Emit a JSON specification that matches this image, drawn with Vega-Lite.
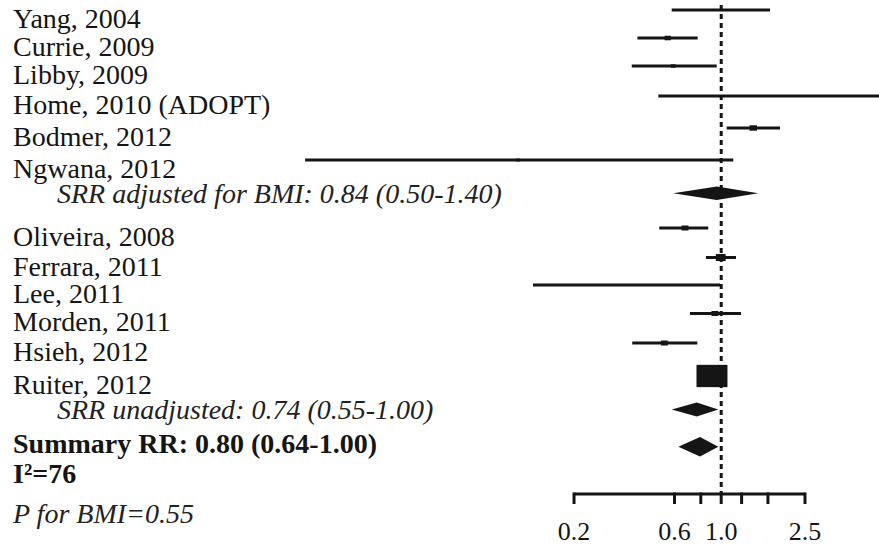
{
  "$schema": "https://vega.github.io/schema/vega-lite/v6.json",
  "width": 879,
  "height": 548,
  "padding": 0,
  "autosize": "none",
  "background": "white",
  "config": {"view": {"stroke": null}},
  "datasets": {
    "studies": [
      {"study": "Yang, 2004", "pos": 1.0, "lo": 0.582, "est": 1.0, "hi": 1.705, "w": 0},
      {"study": "Currie, 2009", "pos": 1.903, "lo": 0.40, "est": 0.557, "hi": 0.773, "w": 5},
      {"study": "Libby, 2009", "pos": 2.806, "lo": 0.376, "est": 0.592, "hi": 0.952, "w": 3},
      {"study": "Home, 2010 (ADOPT)", "pos": 3.774, "lo": 0.503, "est": 1.0, "hi": 6.5, "w": 0},
      {"study": "Bodmer, 2012", "pos": 4.806, "lo": 1.062, "est": 1.42, "hi": 1.902, "w": 7},
      {"study": "Ngwana, 2012", "pos": 5.839, "lo": 0.01056, "est": 0.1084, "hi": 1.141, "w": 2},
      {"study": "Oliveira, 2008", "pos": 8.032, "lo": 0.508, "est": 0.673, "hi": 0.868, "w": 6},
      {"study": "Ferrara, 2011", "pos": 8.984, "lo": 0.847, "est": 0.995, "hi": 1.176, "w": 12},
      {"study": "Lee, 2011", "pos": 9.871, "lo": 0.1277, "est": 0.355, "hi": 0.987, "w": 0},
      {"study": "Morden, 2011", "pos": 10.79, "lo": 0.711, "est": 0.934, "hi": 1.242, "w": 6},
      {"study": "Hsieh, 2012", "pos": 11.742, "lo": 0.378, "est": 0.537, "hi": 0.77, "w": 6},
      {"study": "Ruiter, 2012", "pos": 12.806, "lo": 0.83, "est": 0.904, "hi": 0.98, "w": 120}
    ],
    "pooled": [
      {"label": "SRR adjusted for BMI: 0.84 (0.50-1.40)", "pos": 6.913, "kind": "sub"},
      {"label": "SRR unadjusted: 0.74 (0.55-1.00)", "pos": 13.887, "kind": "sub"},
      {"label": "Summary RR: 0.80 (0.64-1.00)", "pos": 15.087, "kind": "total"},
      {"label": "I²=76", "pos": 16.065, "kind": "total"},
      {"label": "P for BMI=0.55", "pos": 17.226, "kind": "note"}
    ],
    "diamond": [
      {"d": "adj", "rr": 0.592, "top": 6.913, "bot": 6.913},
      {"d": "adj", "rr": 0.952, "top": 6.697, "bot": 7.129},
      {"d": "adj", "rr": 1.5, "top": 6.913, "bot": 6.913},
      {"d": "unadj", "rr": 0.582, "top": 13.887, "bot": 13.887},
      {"d": "unadj", "rr": 0.765, "top": 13.661, "bot": 14.113},
      {"d": "unadj", "rr": 0.969, "top": 13.887, "bot": 13.887},
      {"d": "summary", "rr": 0.626, "top": 15.087, "bot": 15.087},
      {"d": "summary", "rr": 0.793, "top": 14.774, "bot": 15.4},
      {"d": "summary", "rr": 0.969, "top": 15.087, "bot": 15.087}
    ],
    "ticks": [
      {"v": 0.2, "label": "0.2"},
      {"v": 0.6, "label": "0.6"},
      {"v": 0.8, "label": ""},
      {"v": 1.0, "label": "1.0"},
      {"v": 1.25, "label": ""},
      {"v": 1.667, "label": ""},
      {"v": 2.5, "label": "2.5"}
    ]
  },
  "layer": [
    {
      "data": {"name": "studies"},
      "mark": {"type": "rule", "strokeWidth": 3, "color": "#151515", "clip": true},
      "encoding": {
        "x": {"field": "lo", "type": "quantitative", "scale": {"type": "log", "domain": [0.0003758, 5.6154], "nice": false}, "axis": null},
        "x2": {"field": "hi"},
        "y": {"field": "pos", "type": "quantitative", "scale": {"domain": [0.677, 18.355], "reverse": true, "nice": false, "zero": false}, "axis": null}
      }
    },
    {
      "data": {"name": "studies"},
      "mark": {"type": "point", "filled": true, "opacity": 1, "color": "#151515", "strokeWidth": 0, "shape": "M-1,-0.72L1,-0.72L1,0.72L-1,0.72Z"},
      "encoding": {
        "x": {"field": "est", "type": "quantitative", "scale": {"type": "log", "domain": [0.0003758, 5.6154], "nice": false}, "axis": null},
        "y": {"field": "pos", "type": "quantitative", "scale": {"domain": [0.677, 18.355], "reverse": true, "nice": false, "zero": false}, "axis": null},
        "size": {"field": "w", "type": "quantitative", "scale": {"domain": [0, 10], "range": [0, 80]}, "legend": null}
      }
    },
    {
      "data": {"name": "diamond"},
      "mark": {"type": "area", "color": "#151515", "opacity": 1},
      "encoding": {
        "x": {"field": "rr", "type": "quantitative", "scale": {"type": "log", "domain": [0.0003758, 5.6154], "nice": false}, "axis": null},
        "y": {"field": "top", "type": "quantitative", "scale": {"domain": [0.677, 18.355], "reverse": true, "nice": false, "zero": false}, "axis": null},
        "y2": {"field": "bot"},
        "detail": {"field": "d", "type": "nominal"}
      }
    },
    {
      "data": {"values": [{}]},
      "mark": {"type": "rule", "strokeWidth": 3, "strokeDash": [5, 4], "color": "#151515"},
      "encoding": {
        "x": {"datum": 1, "type": "quantitative", "scale": {"type": "log", "domain": [0.0003758, 5.6154], "nice": false}, "axis": null},
        "y": {"datum": 0.839, "type": "quantitative", "scale": {"domain": [0.677, 18.355], "reverse": true, "nice": false, "zero": false}, "axis": null},
        "y2": {"datum": 16.613}
      }
    },
    {
      "data": {"values": [{}]},
      "mark": {"type": "rule", "strokeWidth": 3, "color": "#151515"},
      "encoding": {
        "x": {"datum": 0.2, "type": "quantitative", "scale": {"type": "log", "domain": [0.0003758, 5.6154], "nice": false}, "axis": null},
        "x2": {"datum": 2.5},
        "y": {"datum": 16.613, "type": "quantitative", "scale": {"domain": [0.677, 18.355], "reverse": true, "nice": false, "zero": false}, "axis": null}
      }
    },
    {
      "data": {"name": "ticks"},
      "mark": {"type": "rule", "strokeWidth": 3, "color": "#151515"},
      "encoding": {
        "x": {"field": "v", "type": "quantitative", "scale": {"type": "log", "domain": [0.0003758, 5.6154], "nice": false}, "axis": null},
        "y": {"datum": 16.565, "type": "quantitative", "scale": {"domain": [0.677, 18.355], "reverse": true, "nice": false, "zero": false}, "axis": null},
        "y2": {"datum": 16.935}
      }
    },
    {
      "data": {"name": "ticks"},
      "transform": [{"filter": "datum.label != ''"}],
      "mark": {"type": "text", "font": "Liberation Serif", "fontSize": 26, "color": "#151515", "align": "center", "baseline": "alphabetic"},
      "encoding": {
        "x": {"field": "v", "type": "quantitative", "scale": {"type": "log", "domain": [0.0003758, 5.6154], "nice": false}, "axis": null},
        "y": {"datum": 18.097, "type": "quantitative", "scale": {"domain": [0.677, 18.355], "reverse": true, "nice": false, "zero": false}, "axis": null},
        "text": {"field": "label"}
      }
    },
    {
      "data": {"name": "studies"},
      "mark": {"type": "text", "font": "Liberation Serif", "fontSize": 28, "color": "#151515", "align": "left", "baseline": "alphabetic", "dy": 18},
      "encoding": {
        "x": {"datum": 0.0004333, "type": "quantitative", "scale": {"type": "log", "domain": [0.0003758, 5.6154], "nice": false}, "axis": null},
        "y": {"field": "pos", "type": "quantitative", "scale": {"domain": [0.677, 18.355], "reverse": true, "nice": false, "zero": false}, "axis": null},
        "text": {"field": "study"}
      }
    },
    {
      "data": {"name": "pooled"},
      "transform": [{"filter": "datum.kind == 'sub'"}],
      "mark": {"type": "text", "font": "Liberation Serif", "fontSize": 28, "fontStyle": "italic", "color": "#222222", "align": "left", "baseline": "alphabetic", "dy": 10},
      "encoding": {
        "x": {"datum": 0.000701, "type": "quantitative", "scale": {"type": "log", "domain": [0.0003758, 5.6154], "nice": false}, "axis": null},
        "y": {"field": "pos", "type": "quantitative", "scale": {"domain": [0.677, 18.355], "reverse": true, "nice": false, "zero": false}, "axis": null},
        "text": {"field": "label"}
      }
    },
    {
      "data": {"name": "pooled"},
      "transform": [{"filter": "datum.kind == 'total'"}],
      "mark": {"type": "text", "font": "Liberation Serif", "fontSize": 28, "fontWeight": "bold", "color": "#151515", "align": "left", "baseline": "alphabetic", "dy": 6},
      "encoding": {
        "x": {"datum": 0.0004333, "type": "quantitative", "scale": {"type": "log", "domain": [0.0003758, 5.6154], "nice": false}, "axis": null},
        "y": {"field": "pos", "type": "quantitative", "scale": {"domain": [0.677, 18.355], "reverse": true, "nice": false, "zero": false}, "axis": null},
        "text": {"field": "label"}
      }
    },
    {
      "data": {"name": "pooled"},
      "transform": [{"filter": "datum.kind == 'note'"}],
      "mark": {"type": "text", "font": "Liberation Serif", "fontSize": 28, "fontStyle": "italic", "color": "#222222", "align": "left", "baseline": "alphabetic", "dy": 10},
      "encoding": {
        "x": {"datum": 0.0004333, "type": "quantitative", "scale": {"type": "log", "domain": [0.0003758, 5.6154], "nice": false}, "axis": null},
        "y": {"field": "pos", "type": "quantitative", "scale": {"domain": [0.677, 18.355], "reverse": true, "nice": false, "zero": false}, "axis": null},
        "text": {"field": "label"}
      }
    }
  ]
}
